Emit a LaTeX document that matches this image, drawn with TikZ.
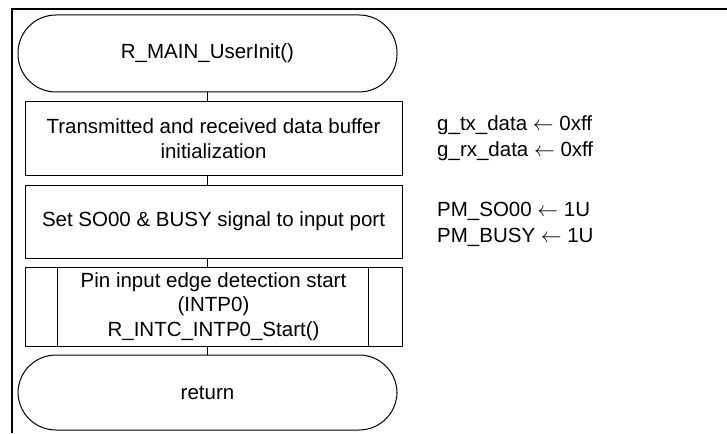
\documentclass[tikz,border=0pt]{standalone}
\usepackage{fontspec}
\setmainfont{Liberation Sans}
\usetikzlibrary{positioning}

\begin{document}
\begin{tikzpicture}[x=1pt, y=-1pt,
    terminal/.style={draw, line width=1pt, rounded corners=38pt, minimum width=379pt, minimum height=77pt, font=\fontsize{20.5}{24}\selectfont},
    procbox/.style={draw, line width=1pt, minimum width=377pt, minimum height=73pt, align=center, inner sep=0pt, font=\fontsize{20.5}{24.5}\selectfont},
    note/.style={anchor=west, align=left, inner sep=0pt, font=\fontsize{20.5}{25.5}\selectfont},
    link/.style={line width=1pt}]
    \useasboundingbox (0,0) rectangle (727,433);

    % frame
    \draw[line width=2pt] (12,433) -- (12,9) -- (727,9);

    % flow
    \node[terminal] (start) at (207.5,53.5) {R\_MAIN\_UserInit()};
    \node[procbox] (bufinit) at (213.5,138.5) {Transmitted and received data buffer\\initialization};
    \node[procbox] (portset) at (213.5,221.5) {Set SO00 \& BUSY signal to input port};
    \node[procbox, minimum height=79pt] (intpstart) at (213.5,306.5)
        {Pin input edge detection start\\(INTP0)\\R\_INTC\_INTP0\_Start()};
    \node[terminal, minimum height=75pt] (ret) at (207.5,392.5) {return};

    \draw[link] ([xshift=33pt]intpstart.north west) -- ([xshift=33pt]intpstart.south west);
    \draw[link] ([xshift=-34pt]intpstart.north east) -- ([xshift=-34pt]intpstart.south east);

    \draw[link] (start.south) -- (start.south |- bufinit.north);
    \draw[link] (start.south |- bufinit.south) -- (start.south |- portset.north);
    \draw[link] (start.south |- portset.south) -- (start.south |- intpstart.north);
    \draw[link] (start.south |- intpstart.south) -- (ret.north);

    % notes
    \node[note] (bufnote) at (437,138) {g\_tx\_data $\leftarrow$ 0xff\\g\_rx\_data $\leftarrow$ 0xff};
    \node[note] (portnote) at (437,224.5) {PM\_SO00 $\leftarrow$ 1U\\PM\_BUSY $\leftarrow$ 1U};
\end{tikzpicture}
\end{document}
